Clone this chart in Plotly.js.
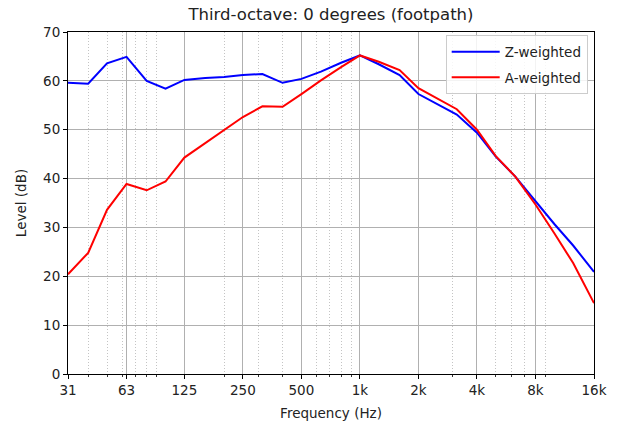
<!DOCTYPE html>
<html>
<head>
<meta charset="utf-8">
<script src="https://cdn.plot.ly/plotly-3.0.1.min.js"></script>
<style>html,body{margin:0;padding:0;background:#fff;}#chart{width:619px;height:426px;}</style>
</head>
<body>
<div id="chart"></div>
<script>
const freqs = [31.5, 40, 50, 63, 80, 100, 125, 160, 200, 250, 315, 400, 500, 630, 800,
  1000, 1250, 1600, 2000, 2500, 3150, 4000, 5000, 6300, 8000, 10000, 12500, 16000];
const zWeighted = [59.6, 59.4, 63.6, 64.9, 60.0, 58.4, 60.2, 60.6, 60.8, 61.2, 61.4, 59.6, 60.4, 61.9, 63.7,
  65.2, 63.4, 61.2, 57.3, 55.3, 53.1, 49.4, 44.5, 40.4, 35.3, 30.7, 26.3, 20.9];
const aWeighted = [20.4, 24.8, 33.6, 38.9, 37.6, 39.4, 44.3, 47.3, 49.9, 52.6, 54.8, 54.7, 57.3, 60.1, 62.8,
  65.2, 63.9, 62.2, 58.5, 56.4, 54.2, 50.0, 44.6, 40.4, 34.7, 28.8, 22.7, 14.5];
const xTickVals = [31.5, 63, 125, 250, 500, 1000, 2000, 4000, 8000, 16000];
const xTickText = ['31', '63', '125', '250', '500', '1k', '2k', '4k', '8k', '16k'];
const xMinorVals = [40, 50, 60, 70, 80, 90, 200, 300, 400, 600, 700, 800, 900, 3000, 5000, 6000, 7000, 9000];
const yTickVals = [0, 10, 20, 30, 40, 50, 60, 70];

const font = {family: 'DejaVu Sans, sans-serif', size: 13.5, color: '#222'};

const traces = [
  {x: freqs, y: zWeighted, name: 'Z-weighted', type: 'scatter', mode: 'lines', legendgroup: 'z',
   line: {color: 'blue', width: 2}},
  {x: freqs, y: aWeighted, name: 'A-weighted', type: 'scatter', mode: 'lines', legendgroup: 'a',
   line: {color: 'red', width: 2}}
];

const layout = {
  width: 619, height: 426,
  margin: {l: 68, r: 25, t: 32, b: 52},
  paper_bgcolor: '#fff', plot_bgcolor: '#fff',
  font: font,
  title: {text: 'Third-octave: 0 degrees (footpath)', font: {family: font.family, size: 16.5, color: '#222'},
    x: 0.5347, xanchor: 'center', y: 0.967, yanchor: 'middle'},
  xaxis: {
    type: 'log',
    range: [Math.log10(31.5), Math.log10(16000)],
    tickmode: 'array', tickvals: xTickVals, ticktext: xTickText,
    showgrid: true, gridcolor: '#b0b0b0', gridwidth: 1,
    ticks: 'outside', ticklen: 4, tickcolor: '#000', tickwidth: 1,
    showline: true, linecolor: '#000', linewidth: 1, mirror: true,
    zeroline: false,
    tickfont: font,
    title: {text: 'Frequency (Hz)', font: font, standoff: 11},
    minor: {tickmode: 'array', tickvals: xMinorVals, showgrid: true, gridcolor: '#c4c4c4',
      griddash: '1px,2px', gridwidth: 1, ticks: 'outside', ticklen: 2, tickcolor: '#000', tickwidth: 0.8}
  },
  yaxis: {
    range: [0, 70],
    tickmode: 'array', tickvals: yTickVals,
    showgrid: true, gridcolor: '#b0b0b0', gridwidth: 1,
    ticks: 'outside', ticklen: 4, tickcolor: '#000', tickwidth: 1,
    showline: true, linecolor: '#000', linewidth: 1, mirror: true,
    zeroline: false,
    tickfont: font,
    title: {text: 'Level (dB)', font: font, standoff: 13}
  },
  legend: {x: 0.988, y: 0.99, xanchor: 'right', yanchor: 'top',
    bgcolor: 'rgba(255,255,255,0.85)', bordercolor: '#cccccc', borderwidth: 1,
    font: font, tracegroupgap: 5, itemwidth: 48},
  showlegend: true
};

Plotly.newPlot('chart', traces, layout, {displayModeBar: false, staticPlot: true});
</script>
</body>
</html>
